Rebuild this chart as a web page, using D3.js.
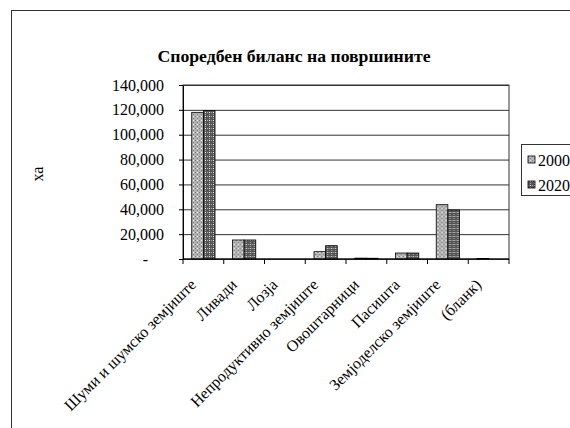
<!DOCTYPE html>
<html>
<head>
<meta charset="utf-8">
<script src="https://cdn.jsdelivr.net/npm/d3@7"></script>
<style>
  body { margin: 0; background: #fff; }
</style>
</head>
<body>
<div id="chart"></div>
<script>
// data
const categories = ['Шуми и шумско земјиште', 'Ливади', 'Лозја', 'Непродуктивно земјиште',
    'Овоштарници', 'Пасишта', 'Земјоделско земјиште', '(бланк)'];
const seriesNames = ['2000', '2020'];
const values2000 = [118000, 15300, 0, 5900, 700, 4800, 43700, 400];
const values2020 = [119400, 15300, 0, 10700, 600, 4800, 39400, 0];
const yTicks = [0, 20000, 40000, 60000, 80000, 100000, 120000, 140000];

const width = 570;
const height = 428;
const plot = { left: 183, right: 509, top: 85, bottom: 259 };
const serif = 'Liberation Serif';

const svg = d3.select('#chart')
    .append('svg')
    .attr('width', width)
    .attr('height', height);

// fill patterns (Excel style checker hatch)
const defs = svg.append('defs');
function checker(id, base, dot) {
    const p = defs.append('pattern')
        .attr('id', id)
        .attr('width', 4)
        .attr('height', 4)
        .attr('patternUnits', 'userSpaceOnUse');
    p.append('rect').attr('width', 4).attr('height', 4).attr('fill', base);
    p.append('rect').attr('x', 0).attr('y', 0).attr('width', 1).attr('height', 1).attr('fill', dot);
    p.append('rect').attr('x', 2).attr('y', 2).attr('width', 1).attr('height', 1).attr('fill', dot);
    p.append('rect').attr('x', 2).attr('y', 0).attr('width', 1).attr('height', 1).attr('fill', '#eee');
}
checker('pat2000', '#b4b4b4', '#777');
checker('pat2020', '#555', '#aaa');
const fills = ['url(#pat2000)', 'url(#pat2020)'];

// outer chart border
svg.append('rect')
    .attr('x', 11.5)
    .attr('y', 10.5)
    .attr('width', 600)
    .attr('height', 500)
    .attr('fill', 'none')
    .attr('stroke', '#333');

svg.append('text')
    .attr('x', 294)
    .attr('y', 62)
    .attr('text-anchor', 'middle')
    .attr('font-family', serif)
    .attr('font-size', 17.7)
    .attr('font-weight', 'bold')
    .text('Споредбен биланс на површините');

const x = d3.scaleBand()
    .domain(categories)
    .range([plot.left, plot.right]);

const x1 = d3.scaleBand()
    .domain(seriesNames)
    .range([0, x.bandwidth()])
    .paddingInner(0)
    .paddingOuter(0.75);

const y = d3.scaleLinear()
    .domain([0, 140000])
    .range([plot.bottom, plot.top]);

// gridlines
svg.append('g')
    .attr('transform', `translate(${plot.left},0)`)
    .call(d3.axisLeft(y).tickValues(yTicks).tickFormat('').tickSize(-(plot.right - plot.left)))
    .call(g => g.select('.domain').remove())
    .selectAll('line')
    .attr('stroke', '#333');

svg.append('rect')
    .attr('x', plot.left)
    .attr('y', plot.top)
    .attr('width', plot.right - plot.left)
    .attr('height', plot.bottom - plot.top)
    .attr('fill', 'none')
    .attr('stroke', '#333');

// y axis
const yAxis = svg.append('g')
    .attr('transform', `translate(${plot.left},0)`)
    .call(d3.axisLeft(y).tickValues(yTicks).tickSize(4).tickSizeOuter(0)
        .tickFormat(d => d === 0 ? '-' : d3.format(',')(d)));
yAxis.attr('font-family', serif).attr('font-size', 16);
yAxis.select('.domain').attr('stroke', '#000');
yAxis.selectAll('text')
    .attr('font-family', serif)
    .attr('font-size', 16)
    .attr('fill', '#000')
    .attr('x', -19)
    .filter(d => d === 0)
    .attr('x', -35);

svg.append('text')
    .attr('transform', 'translate(43,174) rotate(-90)')
    .attr('text-anchor', 'middle')
    .attr('font-family', serif)
    .attr('font-size', 16)
    .text('ха');

// bars
const rows = categories.map((c, i) => ({ cat: c, vals: [values2000[i], values2020[i]] }));
const groups = svg.append('g')
    .selectAll('g')
    .data(rows)
    .join('g')
    .attr('transform', d => `translate(${x(d.cat)},0)`);

groups.selectAll('rect')
    .data(d => d.vals.map((v, j) => ({ s: seriesNames[j], v, j })))
    .join('rect')
    .filter(d => d.v > 0)
    .attr('x', d => x1(d.s))
    .attr('y', d => y(d.v))
    .attr('width', x1.bandwidth())
    .attr('height', d => y(0) - y(d.v))
    .attr('fill', d => fills[d.j])
    .attr('stroke', '#000')
    .attr('stroke-width', 0.8);

// x axis with category tick marks between groups
const xAxis = svg.append('g')
    .attr('transform', `translate(0,${plot.bottom})`);
xAxis.append('line')
    .attr('x1', plot.left).attr('x2', plot.right)
    .attr('stroke', '#000');
xAxis.selectAll('line.tick')
    .data(categories.concat(['end']))
    .join('line')
    .attr('class', 'tick')
    .attr('x1', (d, i) => plot.left + i * x.step())
    .attr('x2', (d, i) => plot.left + i * x.step())
    .attr('y1', 0)
    .attr('y2', 5)
    .attr('stroke', '#000');

xAxis.selectAll('text')
    .data(categories)
    .join('text')
    .attr('transform', d => `translate(${x(d) + x.bandwidth() / 2 - 12},${21}) rotate(-45)`)
    .attr('text-anchor', 'end')
    .attr('dy', '0.5em')
    .attr('font-family', serif)
    .attr('font-size', 16)
    .text(d => d);

// legend
const legend = svg.append('g');
legend.append('rect')
    .attr('x', 521.5)
    .attr('y', 144.5)
    .attr('width', 80)
    .attr('height', 51)
    .attr('fill', '#fff')
    .attr('stroke', '#333');
const items = legend.selectAll('g')
    .data(seriesNames)
    .join('g')
    .attr('transform', (d, i) => `translate(528,${160 + i * 25})`);
items.append('rect')
    .attr('x', 0)
    .attr('y', -4)
    .attr('width', 7)
    .attr('height', 7)
    .attr('fill', (d, i) => fills[i])
    .attr('stroke', '#000')
    .attr('stroke-width', 0.8);
items.append('text')
    .attr('x', 10)
    .attr('dy', '0.35em')
    .attr('font-family', serif)
    .attr('font-size', 16)
    .text(d => d);
</script>
</body>
</html>
